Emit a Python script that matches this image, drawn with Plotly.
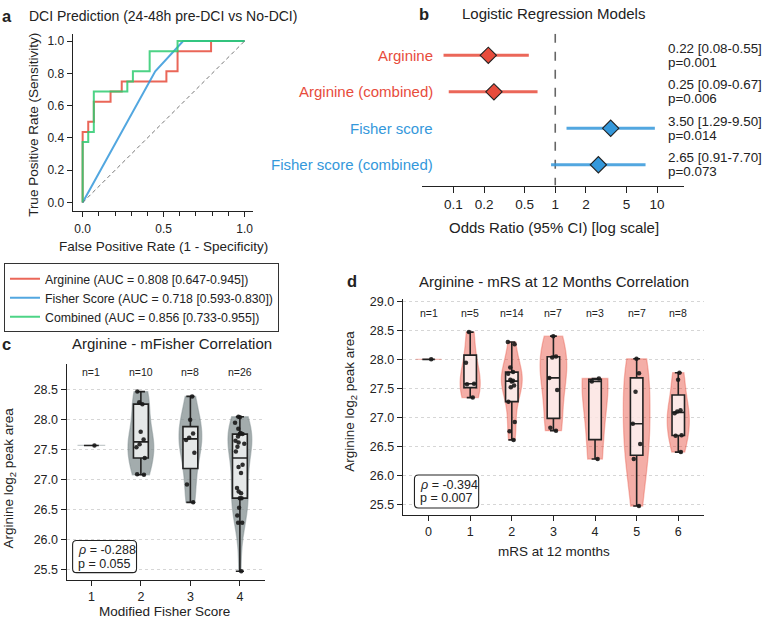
import numpy as np
import plotly.graph_objects as go

W, H = 762, 620
FONT = "Liberation Sans, Arial, Helvetica, sans-serif"
INK = "#222222"
RED = "#E74C3C"
BLUE = "#3498DB"
GREEN = "#2ECC71"


def px(x):
    return x / W


def py(y):
    return 1 - y / H


# ---------------- data ----------------
# (a) ROC curves
roc_names = ["Arginine (AUC = 0.808 [0.647-0.945])",
             "Fisher Score (AUC = 0.718 [0.593-0.830])",
             "Combined (AUC = 0.856 [0.733-0.955])"]
arg_fpr = [0, 0, 0.0345, 0.0345, 0.069, 0.069, 0.1724, 0.1724, 0.2414, 0.2414,
           0.5172, 0.5172, 0.5862, 0.5862, 0.7931, 0.7931, 1.0]
arg_tpr = [0, 0.4375, 0.4375, 0.5, 0.5, 0.625, 0.625, 0.6875, 0.6875, 0.75,
           0.75, 0.8125, 0.8125, 0.9375, 0.9375, 1.0, 1.0]
fis_fpr = [0, 0.4483, 0.6207, 1.0]
fis_tpr = [0, 0.8125, 1.0, 1.0]
com_fpr = [0, 0, 0.0345, 0.0345, 0.069, 0.069, 0.2759, 0.2759, 0.3103, 0.3103,
           0.4138, 0.4138, 0.5862, 0.5862, 1.0]
com_tpr = [0, 0.375, 0.375, 0.4375, 0.4375, 0.6875, 0.6875, 0.75, 0.75, 0.8125,
           0.8125, 0.9375, 0.9375, 1.0, 1.0]
chance = [0, 1]

# (b) logistic regression
models = ["Arginine", "Arginine (combined)", "Fisher score", "Fisher score (combined)"]
or_vals = [0.22, 0.25, 3.50, 2.65]
ci_low = [0.08, 0.09, 1.29, 0.91]
ci_high = [0.55, 0.67, 9.50, 7.70]
p_vals = ["0.001", "0.006", "0.014", "0.073"]
null_or = 1

# (c) Arginine by modified Fisher score
mfs_levels = [1, 2, 3, 4]
mfs_1 = [27.57]
mfs_2 = [28.47, 28.29, 28.26, 27.80, 27.67, 27.59, 27.54, 27.36, 27.09, 27.08]
mfs_3 = [28.39, 28.00, 27.77, 27.70, 27.66, 27.45, 26.92, 26.62]
mfs_4 = [28.05, 28.04, 27.95, 27.85, 27.78, 27.76, 27.76, 27.72, 27.65, 27.62,
         27.60, 27.55, 27.47, 27.25, 27.21, 27.11, 26.86, 26.80, 26.77, 26.69,
         26.69, 26.53, 26.40, 26.28, 26.28, 25.47]
rho_c, p_c = "-0.288", "0.055"

# (d) Arginine by mRS at 12 months
mrs_levels = [0, 1, 2, 3, 4, 5, 6]
mrs_0 = [28.00]
mrs_1 = [28.47, 27.94, 27.58, 27.57, 27.34]
mrs_2 = [28.30, 28.26, 27.86, 27.78, 27.75, 27.65, 27.63, 27.62, 27.55, 27.52,
         27.27, 26.92, 26.76, 26.61]
mrs_3 = [28.40, 28.05, 28.03, 27.68, 27.47, 26.82, 26.77]
mrs_4 = [27.67, 27.62, 26.28]
mrs_5 = [28.01, 27.76, 27.44, 26.89, 26.54, 26.28, 25.47]
mrs_6 = [27.77, 27.65, 27.12, 27.10, 27.07, 26.69, 26.68, 26.40]
rho_d, p_d = "-0.394", "0.007"

# ---------------- styles ----------------
viol_w_c = [0.56, 0.52, 0.46, 0.48]
viol_w_d = [0.62, 0.48, 0.50, 0.64, 0.62, 0.64, 0.53]
BOX_W = 0.30

fig = go.Figure()

# (a) ROC
for xs, ys, name, col in [(arg_fpr, arg_tpr, roc_names[0], RED),
                          (fis_fpr, fis_tpr, roc_names[1], BLUE),
                          (com_fpr, com_tpr, roc_names[2], GREEN)]:
    fig.add_trace(go.Scatter(x=xs, y=ys, mode="lines", name=name,
                             line=dict(color=col, width=2), opacity=0.85,
                             xaxis="x", yaxis="y", hoverinfo="skip"))
fig.add_trace(go.Scatter(x=chance, y=chance, mode="lines", showlegend=False,
                         line=dict(color="#777777", width=1, dash="4px,3px"),
                         xaxis="x", yaxis="y", hoverinfo="skip"))

# (b) forest plot
model_cols = [RED, RED, BLUE, BLUE]
model_line = ["rgba(231,76,60,0.85)", "rgba(231,76,60,0.85)",
              "rgba(52,152,219,0.85)", "rgba(52,152,219,0.85)"]
fig.add_trace(go.Scatter(x=[null_or, null_or], y=[-0.59, 3.57], mode="lines",
                         showlegend=False, line=dict(color="#666666", width=1.6, dash="dash"),
                         xaxis="x2", yaxis="y2", hoverinfo="skip"))
for i in range(len(models)):
    fig.add_trace(go.Scatter(
        x=[or_vals[i]], y=[i], mode="markers", showlegend=False,
        marker=dict(symbol="diamond", size=12.5, color=model_cols[i],
                    line=dict(color=INK, width=1.1)),
        error_x=dict(type="data", symmetric=False,
                     array=[ci_high[i] - or_vals[i]],
                     arrayminus=[or_vals[i] - ci_low[i]],
                     thickness=3, width=0, color=model_line[i]),
        xaxis="x2", yaxis="y2", hoverinfo="skip"))


def bw_scott(v):
    v = np.asarray(v, dtype=float)
    if len(v) < 2:
        return None
    return float(np.std(v, ddof=1) * len(v) ** (-0.2))


def add_group(level, vals, width, ax, ay, fill, edge):
    fig.add_trace(go.Violin(
        x0=level, y=vals, width=width, scalemode="width", spanmode="hard",
        bandwidth=bw_scott(vals), fillcolor=fill, line=dict(color=edge, width=1.3),
        points=False, box=dict(visible=False), meanline=dict(visible=False),
        showlegend=False, hoverinfo="skip", xaxis=ax, yaxis=ay))
    fig.add_trace(go.Box(
        x0=level, y=vals, width=BOX_W, quartilemethod="linear",
        fillcolor="rgba(255,255,255,0.72)", line=dict(color=INK, width=1.6),
        whiskerwidth=0.55, boxpoints="all", jitter=0.8, pointpos=0,
        marker=dict(color="#1a1a1a", size=4.5, opacity=0.9),
        showlegend=False, hoverinfo="skip", xaxis=ax, yaxis=ay))


c_groups = [mfs_1, mfs_2, mfs_3, mfs_4]
for lv, vals, w in zip(mfs_levels, c_groups, viol_w_c):
    add_group(lv, vals, w, "x3", "y3", "rgba(127,140,141,0.72)", "rgba(127,140,141,0.45)")

d_groups = [mrs_0, mrs_1, mrs_2, mrs_3, mrs_4, mrs_5, mrs_6]
for lv, vals, w in zip(mrs_levels, d_groups, viol_w_d):
    add_group(lv, vals, w, "x4", "y4", "rgba(231,76,60,0.45)", "rgba(231,76,60,0.35)")

# ---------------- axes ----------------
base = dict(showline=True, linecolor=INK, linewidth=1.2, ticks="outside", ticklen=5,
            tickwidth=1.2, tickcolor=INK, showgrid=False, zeroline=False,
            tickfont=dict(size=12.5, color=INK, family=FONT), fixedrange=True)

fig.update_layout(
    xaxis=dict(base, domain=[px(72.7), px(253)], range=[-0.062, 1.05], anchor="y",
               tickvals=[0, 0.5, 1.0], ticktext=["0.0", "0.5", "1.0"],
               tickfont=dict(size=12, color=INK, family=FONT), ticklabelstandoff=2,
               minor=dict(tick0=0, dtick=0.1, ticks="outside", ticklen=4,
                          tickcolor=INK, tickwidth=1)),
    yaxis=dict(base, domain=[py(208), py(30)], range=[-0.05, 1.045], anchor="x",
               tickvals=[0, 0.2, 0.4, 0.6, 0.8, 1.0], tickformat=".1f",
               tickfont=dict(size=12, color=INK, family=FONT)),
    xaxis2=dict(base, type="log", domain=[px(423), px(685)], range=[-1.304, 1.265],
                anchor="y2", tickvals=[0.1, 0.2, 0.5, 1, 2, 5, 10],
                ticktext=["0.1", "0.2", "0.5", "1", "2", "5", "10"], ticklen=6,
                tickfont=dict(size=13.5, color=INK, family=FONT)),
    yaxis2=dict(domain=[py(182.7), py(30)], range=[3.57, -0.59], anchor="x2",
                visible=False, fixedrange=True),
    xaxis3=dict(base, domain=[px(66.7), px(265)], range=[0.5, 4.5], anchor="y3",
                tickvals=mfs_levels),
    yaxis3=dict(base, domain=[py(579.3), py(362.7)], range=[25.33, 28.925], anchor="x3",
                tick0=25.5, dtick=0.5, tickformat=".1f", showgrid=True,
                gridcolor="#d6d6d6", griddash="dot", gridwidth=1),
    xaxis4=dict(base, domain=[px(403.3), px(705)], range=[-0.62, 6.62], anchor="y4",
                tickvals=mrs_levels),
    yaxis4=dict(base, domain=[py(514), py(297)], range=[25.32, 29.04], anchor="x4",
                tick0=25.5, dtick=0.5, tickformat=".1f", showgrid=True,
                gridcolor="#d6d6d6", griddash="dot", gridwidth=1),
)

# ---------------- text ----------------
ann = []


def text(x, y, s, size, bold=False, xanchor="center", angle=0, color=INK, yanchor="middle"):
    ann.append(dict(x=px(x), y=py(y), xref="paper", yref="paper", text=s, showarrow=False,
                    xanchor=xanchor, yanchor=yanchor, textangle=angle,
                    font=dict(size=size, color=color, family=FONT)))


# panel letters
text(7, 12, "<b>a</b>", 16.5)
text(425, 10, "<b>b</b>", 16.5)
text(7, 342, "<b>c</b>", 16.5)
text(352, 279, "<b>d</b>", 16.5)

# titles
text(163, 12, "DCI Prediction (24-48h pre-DCI vs No-DCI)", 14)
text(554, 10, "Logistic Regression Models", 15)
text(172, 342, "Arginine - mFisher Correlation", 15)
text(555, 279, "Arginine - mRS at 12 Months Correlation", 15)

# axis titles
text(34, 121.7, "True Positive Rate (Sensitivity)", 13.5, angle=-90)
text(164, 244, "False Positive Rate (1 - Specificity)", 13.5)
text(554.3, 225.3, "Odds Ratio (95% CI) [log scale]", 15)
text(10, 476.7, "Arginine log<sub>2</sub> peak area", 13.5, angle=-90)
text(165, 611, "Modified Fisher Score", 13.5)
text(350.7, 400, "Arginine log<sub>2</sub> peak area", 13.5, angle=-90)
text(554.3, 550.7, "mRS at 12 months", 13.5)

# forest labels and stats
for i, m in enumerate(models):
    ann.append(dict(x=px(436), xref="paper", y=i, yref="y2", text=m, showarrow=False,
                    xanchor="right", yanchor="middle",
                    font=dict(size=15, color=model_cols[i], family=FONT)))
    ann.append(dict(x=px(667), xref="paper", y=i, yref="y2", yshift=7,
                    text=f"{or_vals[i]:.2f} [{ci_low[i]:.2f}-{ci_high[i]:.2f}]",
                    showarrow=False, xanchor="left", yanchor="middle",
                    font=dict(size=13.4, color=INK, family=FONT)))
    ann.append(dict(x=px(667), xref="paper", y=i, yref="y2", yshift=-7,
                    text=f"p={p_vals[i]}", showarrow=False, xanchor="left",
                    yanchor="middle", font=dict(size=13.4, color=INK, family=FONT)))

# n labels
for lv, vals in zip(mfs_levels, c_groups):
    ann.append(dict(x=lv, y=28.79, xref="x3", yref="y3", text=f"n={len(vals)}",
                    showarrow=False, font=dict(size=10.5, color=INK, family=FONT)))
for lv, vals in zip(mrs_levels, d_groups):
    ann.append(dict(x=lv, y=28.80, xref="x4", yref="y4", text=f"n={len(vals)}",
                    showarrow=False, font=dict(size=10.5, color=INK, family=FONT)))


# correlation boxes
def rrect(x0, y0, x1, y1, r):
    pts = [("M", x0 + r, y0), ("L", x1 - r, y0), ("Q", x1, y0, x1, y0 + r),
           ("L", x1, y1 - r), ("Q", x1, y1, x1 - r, y1), ("L", x0 + r, y1),
           ("Q", x0, y1, x0, y1 - r), ("L", x0, y0 + r), ("Q", x0, y0, x0 + r, y0)]
    s = ""
    for p in pts:
        if p[0] == "Q":
            s += f"Q{px(p[1]):.5f},{py(p[2]):.5f} {px(p[3]):.5f},{py(p[4]):.5f} "
        else:
            s += f"{p[0]}{px(p[1]):.5f},{py(p[2]):.5f} "
    return s + "Z"


shapes = []
for (bx0, by0, bx1, by1), rho, pv in [((72.7, 540, 136.7, 572.3), rho_c, p_c),
                                       ((415, 474, 479.3, 507.3), rho_d, p_d)]:
    shapes.append(dict(type="path", xref="paper", yref="paper",
                       path=rrect(bx0, by0, bx1, by1, 4),
                       line=dict(color=INK, width=1.1), fillcolor="white", layer="above"))
    cy = (by0 + by1) / 2
    text(bx0 + 3.5, cy - 7, f"<i>ρ</i> = {rho}", 12.5, xanchor="left")
    text(bx0 + 3.5, cy + 7, f"p = {pv}", 12.5, xanchor="left")

fig.update_layout(
    width=W, height=H, margin=dict(l=0, r=0, t=0, b=0),
    paper_bgcolor="white", plot_bgcolor="rgba(0,0,0,0)",
    font=dict(family=FONT, color=INK),
    violinmode="overlay", boxmode="overlay",
    annotations=ann, shapes=shapes,
    showlegend=True,
    legend=dict(x=px(4), y=py(261), xanchor="left", yanchor="top",
                bordercolor="#333333", borderwidth=1, bgcolor="white",
                font=dict(size=12.3, color=INK, family=FONT),
                itemwidth=30, tracegroupgap=0),
)

fig.write_html("out.html")
